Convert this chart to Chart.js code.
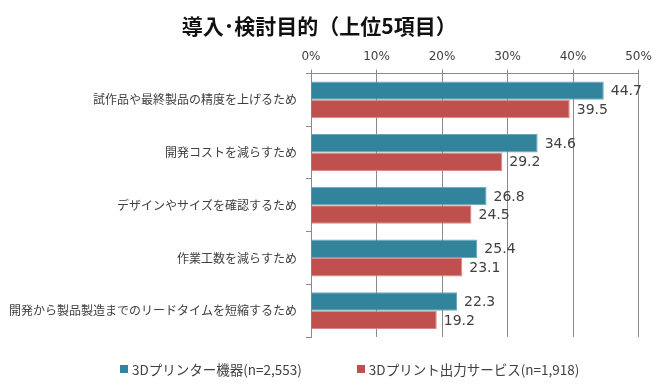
<!DOCTYPE html>
<html>
<head>
<meta charset="utf-8">
<script src="https://cdn.jsdelivr.net/npm/chart.js@4/dist/chart.umd.min.js"></script>
<style>
  html, body { margin: 0; padding: 0; background: #fff; }
  #wrap { position: relative; width: 665px; height: 389px; }
  #legend { position: absolute; left: 120px; top: 359px; display: flex; align-items: center;
            font-family: "Noto Sans CJK JP", sans-serif; font-size: 13.5px; color: #404040; }
  #legend .item { display: flex; align-items: center; margin-right: 55px; }
  #legend .box { width: 8px; height: 8px; margin-right: 4px; }
</style>
</head>
<body>
<div id="wrap">
  <canvas id="chart" width="665" height="389"></canvas>
  <div id="legend"></div>
</div>
<script>
const categories = [
  '試作品や最終製品の精度を上げるため',
  '開発コストを減らすため',
  'デザインやサイズを確認するため',
  '作業工数を減らすため',
  '開発から製品製造までのリードタイムを短縮するため'
];
const printerValues = [44.7, 34.6, 26.8, 25.4, 22.3];
const serviceValues = [39.5, 29.2, 24.5, 23.1, 19.2];
const seriesNames = ['3Dプリンター機器(n=2,553)', '3Dプリント出力サービス(n=1,918)'];
const tickValues = [0, 10, 20, 30, 40, 50];

const gridGrey = '#8a8a8a';
const textGrey = '#404040';

const valueLabels = {
  id: 'valueLabels',
  afterDatasetsDraw(chart) {
    const ctx = chart.ctx;
    ctx.save();
    ctx.font = '14px "DejaVu Sans"';
    ctx.fillStyle = textGrey;
    ctx.textAlign = 'left';
    ctx.textBaseline = 'middle';
    chart.data.datasets.forEach((ds, i) => {
      chart.getDatasetMeta(i).data.forEach((bar, j) => {
        ctx.fillText(ds.data[j].toFixed(1), bar.x + 7, bar.y + 1);
      });
    });
    ctx.restore();
  }
};

const chart = new Chart(document.getElementById('chart').getContext('2d'), {
  type: 'bar',
  data: {
    labels: categories,
    datasets: [
      {
        label: seriesNames[0],
        data: printerValues,
        backgroundColor: '#31849b',
        borderColor: '#6aa8ba',
        borderWidth: 1
      },
      {
        label: seriesNames[1],
        data: serviceValues,
        backgroundColor: '#c0504d',
        borderColor: '#d98a88',
        borderWidth: 1
      }
    ]
  },
  options: {
    indexAxis: 'y',
    responsive: false,
    animation: false,
    datasets: { bar: { categoryPercentage: 0.7, barPercentage: 1.0 } },
    layout: { padding: { top: 0, left: 0, right: 26.5, bottom: 52 } },
    plugins: {
      legend: { display: false },
      tooltip: { enabled: false },
      title: {
        display: true,
        text: '導入･検討目的（上位5項目）',
        color: '#111',
        font: { family: '"Noto Sans CJK JP", sans-serif', size: 21, weight: 'bold' },
        padding: { top: 13, bottom: 0 }
      }
    },
    scales: {
      x: {
        position: 'top',
        min: 0,
        max: 50,
        afterBuildTicks(scale) { scale.ticks = tickValues.map(v => ({ value: v })); },
        afterFit(scale) { scale.height = 35.3; },
        grid: { color: gridGrey, tickLength: 4, lineWidth: 1 },
        border: { color: gridGrey },
        ticks: {
          color: textGrey,
          padding: 5,
          font: { family: '"DejaVu Sans"', size: 12 },
          callback: v => v + '%'
        }
      },
      y: {
        afterFit(scale) { scale.width = 311; },
        grid: { offset: true, drawOnChartArea: false, color: gridGrey, tickLength: 5 },
        border: { color: gridGrey },
        ticks: {
          color: textGrey,
          padding: 9,
          font: { family: '"Noto Sans CJK JP", sans-serif', size: 12 }
        }
      }
    }
  },
  plugins: [valueLabels]
});

const legendEl = document.getElementById('legend');
chart.data.datasets.forEach(ds => {
  const item = document.createElement('div');
  item.className = 'item';
  const box = document.createElement('span');
  box.className = 'box';
  box.style.background = ds.backgroundColor;
  const txt = document.createElement('span');
  txt.textContent = ds.label;
  item.appendChild(box);
  item.appendChild(txt);
  legendEl.appendChild(item);
});
</script>
</body>
</html>
